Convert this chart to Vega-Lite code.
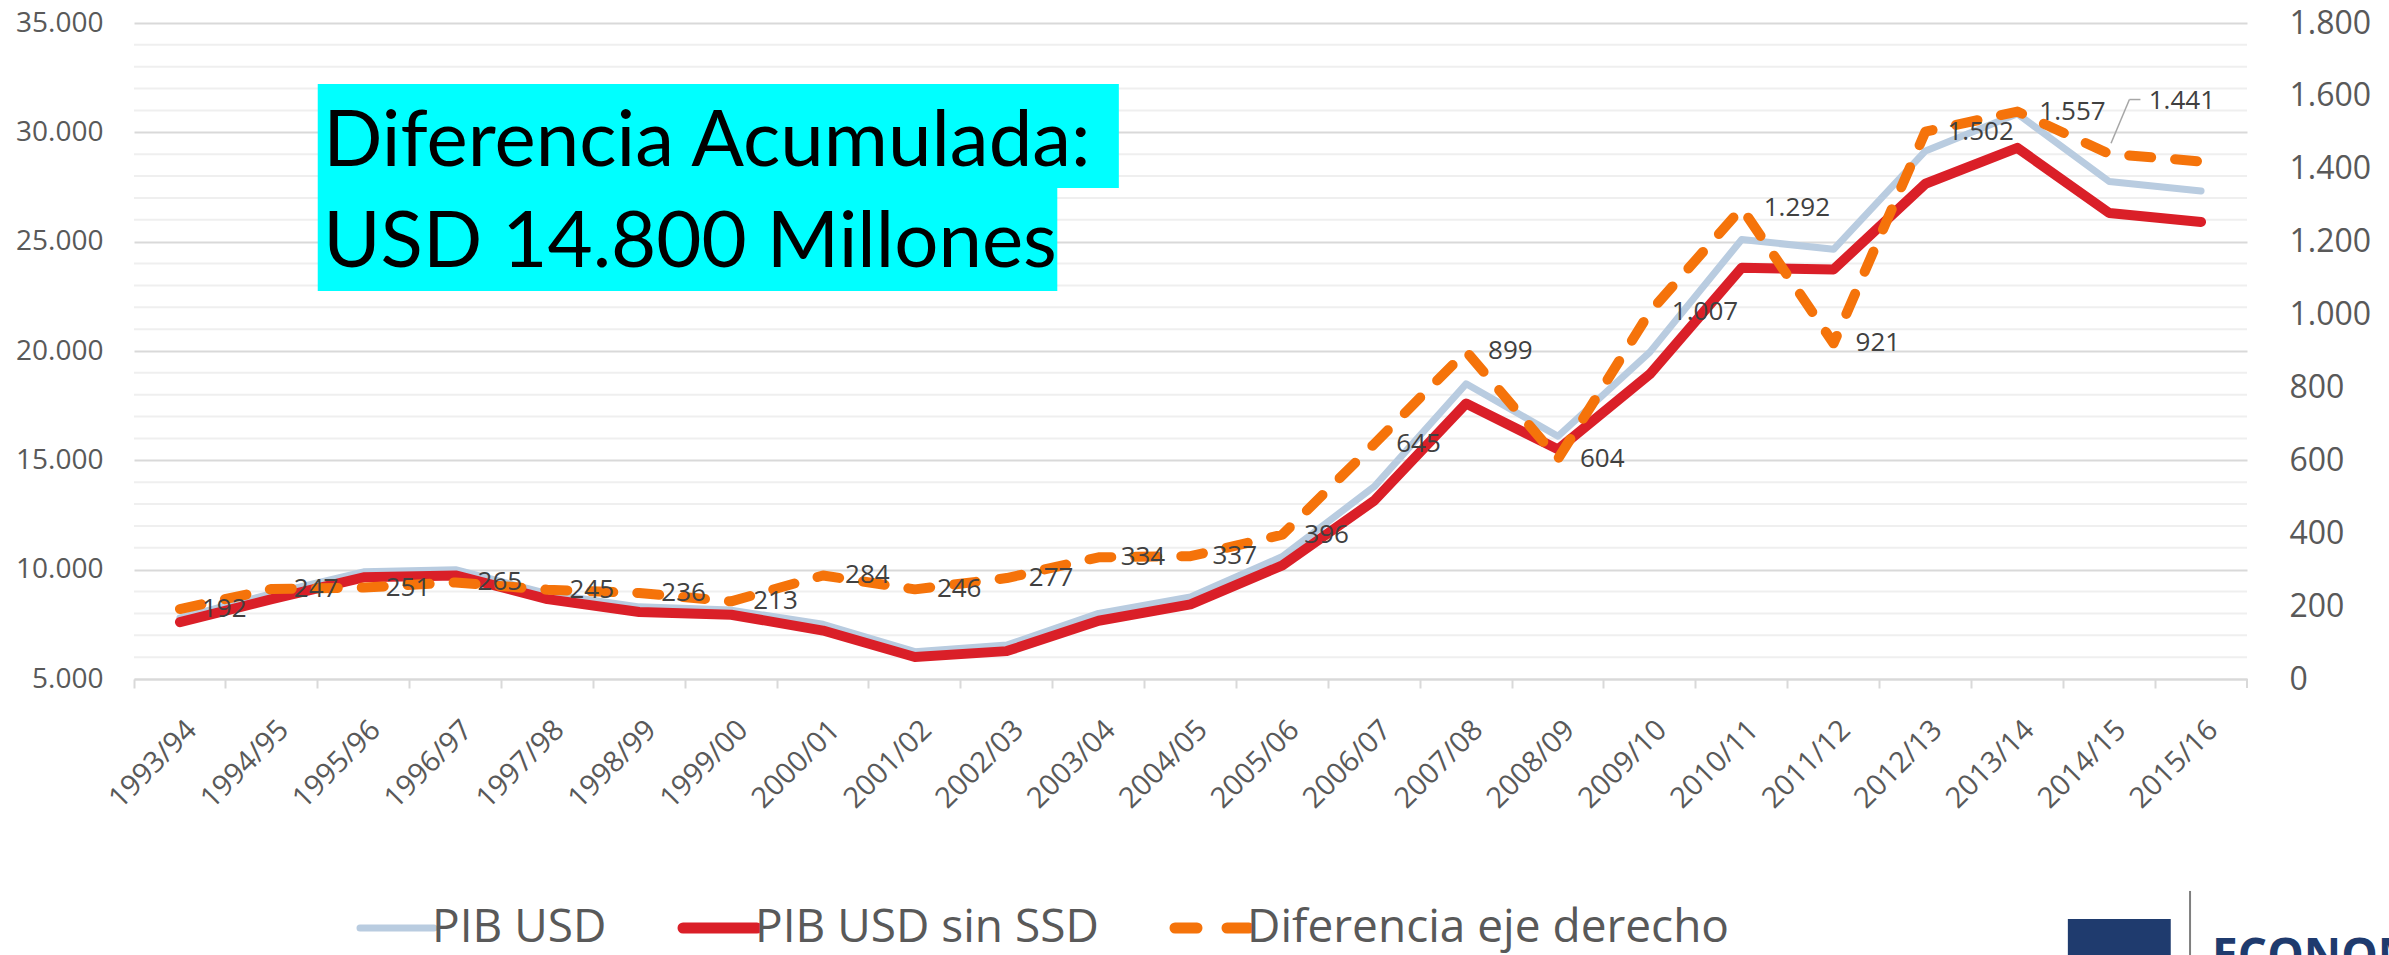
{
  "$schema": "https://vega.github.io/schema/vega-lite/v6.json",
  "width": 2113,
  "height": 656,
  "autosize": {"type": "none"},
  "padding": {"left": 134, "top": 23, "right": 142, "bottom": 276},
  "background": "white",
  "config": {
    "locale": {"number": {"decimal": ",", "thousands": ".", "grouping": [3], "currency": ["", ""]}},
    "view": {"stroke": null},
    "font": "Open Sans",
    "axis": {"labelOverlap": false},
    "legend": {
      "title": null,
      "orient": "none",
      "legendX": 240,
      "legendY": 882,
      "direction": "horizontal",
      "symbolType": "stroke",
      "symbolSize": 5476,
      "symbolStrokeWidth": 9,
      "labelFont": "Open Sans",
      "labelFontSize": 46,
      "labelColor": "#595959",
      "labelOffset": 12,
      "columnPadding": 54,
      "labelLimit": 1000
    }
  },
  "data": {
    "values": [
      {"periodo": "1993/94", "pib": 7800, "pib_sin": 7600, "dif": 192},
      {"periodo": "1994/95", "pib": 8900, "pib_sin": 8650, "dif": 247},
      {"periodo": "1995/96", "pib": 9900, "pib_sin": 9650, "dif": 251},
      {"periodo": "1996/97", "pib": 10000, "pib_sin": 9735, "dif": 265},
      {"periodo": "1997/98", "pib": 8900, "pib_sin": 8655, "dif": 245},
      {"periodo": "1998/99", "pib": 8300, "pib_sin": 8065, "dif": 236},
      {"periodo": "1999/00", "pib": 8150, "pib_sin": 7940, "dif": 213},
      {"periodo": "2000/01", "pib": 7500, "pib_sin": 7215, "dif": 284},
      {"periodo": "2001/02", "pib": 6250, "pib_sin": 6005, "dif": 246},
      {"periodo": "2002/03", "pib": 6550, "pib_sin": 6275, "dif": 277},
      {"periodo": "2003/04", "pib": 8000, "pib_sin": 7665, "dif": 334},
      {"periodo": "2004/05", "pib": 8750, "pib_sin": 8410, "dif": 337},
      {"periodo": "2005/06", "pib": 10600, "pib_sin": 10200, "dif": 396},
      {"periodo": "2006/07", "pib": 13800, "pib_sin": 13155, "dif": 645},
      {"periodo": "2007/08", "pib": 18500, "pib_sin": 17600, "dif": 899},
      {"periodo": "2008/09", "pib": 16100, "pib_sin": 15500, "dif": 604},
      {"periodo": "2009/10", "pib": 19950, "pib_sin": 18940, "dif": 1007},
      {"periodo": "2010/11", "pib": 25100, "pib_sin": 23810, "dif": 1292},
      {"periodo": "2011/12", "pib": 24650, "pib_sin": 23730, "dif": 921},
      {"periodo": "2012/13", "pib": 29150, "pib_sin": 27650, "dif": 1502},
      {"periodo": "2013/14", "pib": 30850, "pib_sin": 29290, "dif": 1557},
      {"periodo": "2014/15", "pib": 27750, "pib_sin": 26310, "dif": 1441},
      {"periodo": "2015/16", "pib": 27320, "pib_sin": 25900, "dif": 1420}
    ]
  },
  "encoding": {
    "x": {
      "field": "periodo",
      "type": "ordinal",
      "sort": null,
      "title": null,
      "scale": {
        "type": "band",
        "paddingInner": 0,
        "paddingOuter": 0,
        "domain": ["1993/94", "1994/95", "1995/96", "1996/97", "1997/98", "1998/99", "1999/00", "2000/01", "2001/02", "2002/03", "2003/04", "2004/05", "2005/06", "2006/07", "2007/08", "2008/09", "2009/10", "2010/11", "2011/12", "2012/13", "2013/14", "2014/15", "2015/16"]
      },
      "axis": {
        "title": null,
        "bandPosition": 0,
        "grid": false,
        "domain": true,
        "domainColor": "#d9d9d9",
        "domainWidth": 2,
        "ticks": true,
        "tickColor": "#d9d9d9",
        "tickWidth": 2,
        "tickSize": 9,
        "labelAngle": -45,
        "labelAlign": "right",
        "labelBaseline": "middle",
        "labelOffset": 12,
        "labelPadding": 37,
        "labelFont": "Open Sans",
        "labelFontSize": 29,
        "labelColor": "#595959",
        "labelOverlap": false
      }
    }
  },
  "layer": [
    {
      "layer": [
        {
          "data": {"values": [
            {"v": 6000}, {"v": 7000}, {"v": 8000}, {"v": 9000},
            {"v": 11000}, {"v": 12000}, {"v": 13000}, {"v": 14000},
            {"v": 16000}, {"v": 17000}, {"v": 18000}, {"v": 19000},
            {"v": 21000}, {"v": 22000}, {"v": 23000}, {"v": 24000},
            {"v": 26000}, {"v": 27000}, {"v": 28000}, {"v": 29000},
            {"v": 31000}, {"v": 32000}, {"v": 33000}, {"v": 34000}
          ]},
          "mark": {"type": "rule", "color": "#efefef", "strokeWidth": 2},
          "encoding": {
            "x": {"datum": "1993/94", "type": "ordinal", "title": null, "bandPosition": 0},
            "x2": {"datum": "2015/16", "bandPosition": 1},
            "y": {
              "field": "v",
              "type": "quantitative",
              "title": null,
              "scale": {"domain": [5000, 35000], "nice": false, "zero": false},
              "axis": {
                "orient": "left",
                "title": null,
                "values": [5000, 10000, 15000, 20000, 25000, 30000, 35000],
                "format": ",d",
                "labelOverlap": false,
                "grid": true,
                "gridWidth": 2,
                "gridColor": "#d9d9d9",
                "domain": false,
                "ticks": false,
                "labelPadding": 31,
                "labelFont": "Open Sans",
                "labelFontSize": 28,
                "labelColor": "#595959"
              }
            }
          }
        },
        {
          "data": {"values": [{}]},
          "mark": {"type": "rule", "color": "#d9d9d9", "strokeWidth": 2},
          "encoding": {
            "x": {"datum": "2015/16", "type": "ordinal", "title": null, "bandPosition": 1},
            "y": {"datum": 5000, "type": "quantitative", "title": null},
            "y2": {"datum": 4590}
          }
        },
        {
          "data": {"values": [{}]},
          "mark": {"type": "rect", "color": "#00FFFF"},
          "encoding": {
            "x": {"datum": "1995/96", "type": "ordinal", "title": null, "bandPosition": 0},
            "x2": {"datum": "2003/04", "bandPosition": 0.72},
            "y": {"datum": 32210, "type": "quantitative", "title": null},
            "y2": {"datum": 27454}
          }
        },
        {
          "data": {"values": [{}]},
          "mark": {"type": "rect", "color": "#00FFFF"},
          "encoding": {
            "x": {"datum": "1995/96", "type": "ordinal", "title": null, "bandPosition": 0},
            "x2": {"datum": "2003/04", "bandPosition": 0.05},
            "y": {"datum": 27454, "type": "quantitative", "title": null},
            "y2": {"datum": 22744}
          }
        },
        {
          "mark": {"type": "line", "strokeWidth": 7, "strokeCap": "round", "strokeJoin": "round"},
          "encoding": {
            "y": {"field": "pib", "type": "quantitative", "title": null},
            "color": {
              "datum": "PIB USD",
              "type": "nominal",
              "scale": {"domain": ["PIB USD", "PIB USD sin SSD", "Diferencia eje derecho"], "range": ["#B9CCE0", "#DA1F28", "#F5730A"]},
              "legend": {
                "title": null,
                "encode": {
                  "symbols": {
                    "update": {
                      "strokeDash": {"signal": "datum.label === 'Diferencia eje derecho' ? [22, 30] : [1, 0]"},
                      "strokeWidth": {"signal": "datum.label === 'PIB USD' ? 7 : 11"},
                      "strokeCap": {"value": "round"}
                    }
                  }
                }
              }
            }
          }
        },
        {
          "mark": {"type": "line", "strokeWidth": 10, "strokeCap": "round", "strokeJoin": "round"},
          "encoding": {
            "y": {"field": "pib_sin", "type": "quantitative", "title": null},
            "color": {"datum": "PIB USD sin SSD", "type": "nominal"}
          }
        },
        {
          "data": {"values": [{}]},
          "mark": {"type": "text", "font": "Lato", "fontSize": 78, "color": "#000000", "align": "left", "baseline": "alphabetic"},
          "encoding": {
            "x": {"datum": "1995/96", "type": "ordinal", "title": null, "bandPosition": 0.06},
            "y": {"datum": 28460, "type": "quantitative", "title": null},
            "text": {"value": "Diferencia Acumulada:"}
          }
        },
        {
          "data": {"values": [{}]},
          "mark": {"type": "text", "font": "Lato", "fontSize": 78, "color": "#000000", "align": "left", "baseline": "alphabetic"},
          "encoding": {
            "x": {"datum": "1995/96", "type": "ordinal", "title": null, "bandPosition": 0.06},
            "y": {"datum": 23841, "type": "quantitative", "title": null},
            "text": {"value": "USD 14.800 Millones"}
          }
        },
        {
          "data": {"values": [{}]},
          "mark": {"type": "rect", "color": "#1F3B6E"},
          "encoding": {
            "x": {"datum": "2014/15", "type": "ordinal", "title": null, "bandPosition": 0.05},
            "x2": {"datum": "2015/16", "bandPosition": 0.17},
            "y": {"datum": -5974, "type": "quantitative", "title": null},
            "y2": {"datum": -7800}
          }
        },
        {
          "data": {"values": [{}]},
          "mark": {"type": "rule", "color": "#7f7f7f", "strokeWidth": 2},
          "encoding": {
            "x": {"datum": "2015/16", "type": "ordinal", "title": null, "bandPosition": 0.38},
            "y": {"datum": -4693, "type": "quantitative", "title": null},
            "y2": {"datum": -7800}
          }
        },
        {
          "data": {"values": [{}]},
          "mark": {"type": "text", "font": "Open Sans", "fontWeight": "bold", "fontSize": 46, "color": "#1F3B6E", "align": "left", "baseline": "top"},
          "encoding": {
            "x": {"datum": "2015/16", "type": "ordinal", "title": null, "bandPosition": 0.62},
            "y": {"datum": -6705, "type": "quantitative", "title": null},
            "text": {"value": "ECONOMÍA"}
          }
        }
      ]
    },
    {
      "layer": [
        {
          "mark": {"type": "line", "strokeWidth": 10, "strokeCap": "round", "strokeJoin": "round", "strokeDash": [22, 24]},
          "encoding": {
            "y": {
              "field": "dif",
              "type": "quantitative",
              "title": null,
              "scale": {"domain": [0, 1800], "nice": false},
              "axis": {
                "orient": "right",
                "title": null,
                "values": [0, 200, 400, 600, 800, 1000, 1200, 1400, 1600, 1800],
                "format": ",d",
                "labelOverlap": false,
                "grid": false,
                "domain": false,
                "ticks": false,
                "labelPadding": 42,
                "labelFont": "Open Sans",
                "labelFontSize": 32,
                "labelColor": "#595959"
              }
            },
            "color": {"datum": "Diferencia eje derecho", "type": "nominal"}
          }
        },
        {
          "transform": [{"filter": "datum.periodo !== '2015/16' && datum.periodo !== '2014/15'"}],
          "mark": {"type": "text", "align": "left", "baseline": "middle", "dx": 22, "font": "Open Sans", "fontSize": 26, "color": "#404040"},
          "encoding": {
            "y": {"field": "dif", "type": "quantitative", "title": null},
            "text": {"field": "dif", "type": "quantitative", "format": ",d"}
          }
        },
        {
          "transform": [{"filter": "datum.periodo === '2014/15'"}],
          "mark": {"type": "text", "align": "left", "baseline": "middle", "font": "Open Sans", "fontSize": 26, "color": "#404040"},
          "encoding": {
            "x": {"datum": "2014/15", "type": "ordinal", "title": null, "bandPosition": 0.93},
            "y": {"datum": 1585, "type": "quantitative", "title": null},
            "text": {"field": "dif", "type": "quantitative", "format": ",d"}
          }
        },
        {
          "data": {"values": [{}]},
          "mark": {"type": "rule", "color": "#a6a6a6", "strokeWidth": 1.5},
          "encoding": {
            "x": {"datum": "2014/15", "type": "ordinal", "title": null, "bandPosition": 0.52},
            "x2": {"datum": "2014/15", "bandPosition": 0.72},
            "y": {"datum": 1470, "type": "quantitative", "title": null},
            "y2": {"datum": 1590}
          }
        },
        {
          "data": {"values": [{}]},
          "mark": {"type": "rule", "color": "#a6a6a6", "strokeWidth": 1.5},
          "encoding": {
            "x": {"datum": "2014/15", "type": "ordinal", "title": null, "bandPosition": 0.72},
            "x2": {"datum": "2014/15", "bandPosition": 0.84},
            "y": {"datum": 1590, "type": "quantitative", "title": null},
            "y2": {"datum": 1590}
          }
        }
      ]
    }
  ],
  "resolve": {"scale": {"y": "independent"}}
}
